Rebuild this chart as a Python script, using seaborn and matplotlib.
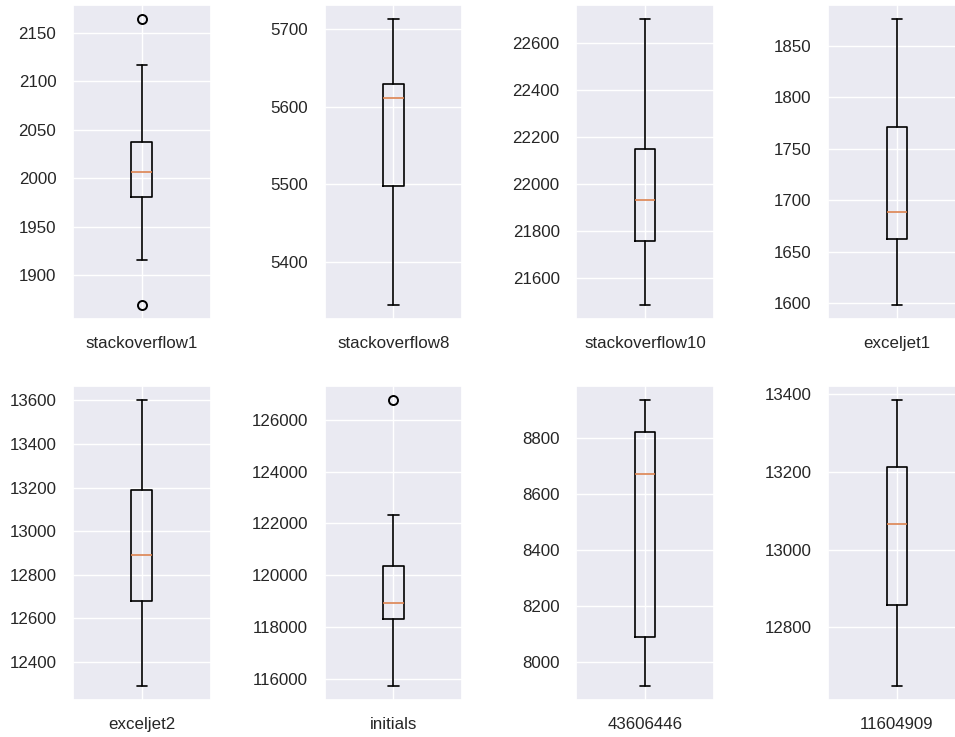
import matplotlib
matplotlib.use("Agg")
import matplotlib.pyplot as plt
from matplotlib.ticker import MaxNLocator
import seaborn as sns

# Summary statistics for each benchmark series
names = ["stackoverflow1", "stackoverflow8", "stackoverflow10", "exceljet1",
         "exceljet2", "initials", "43606446", "11604909"]
whisker_low = [1916, 5344, 21484, 1598, 12290, 115744, 7917, 12649]
q1 = [1981, 5498, 21758, 1662, 12681, 118320, 8092, 12858]
median = [2006, 5611, 21932, 1689, 12890, 118951, 8673, 13067]
q3 = [2037, 5629, 22149, 1771, 13188, 120358, 8821, 13213]
whisker_high = [2117, 5713, 22700, 1876, 13603, 122320, 8936, 13386]
outliers = [[1869, 2164], [], [], [], [], [126767], [], []]

sns.set_theme(style="darkgrid")
plt.rcParams["font.family"] = ["Liberation Sans", "DejaVu Sans"]
plt.rcParams.update({
    "xtick.labelsize": 12.2,
    "ytick.labelsize": 12.2,
    "xtick.major.pad": 6,
    "ytick.major.pad": 6,
})

fig = plt.figure(figsize=(9.55, 7.37), dpi=100)
axes = fig.subplots(2, 4)
fig.subplots_adjust(left=0.0764, right=1.0111, bottom=0.0502, top=0.9932,
                    wspace=0.83, hspace=0.21)

line = dict(color="black", linewidth=1.2)
for ax, name, lo, a, m, b, hi, fl in zip(axes.flat, names, whisker_low, q1,
                                         median, q3, whisker_high, outliers):
    stats = [dict(label=name, whislo=lo, q1=a, med=m, q3=b, whishi=hi,
                  fliers=fl)]
    ax.bxp(stats, boxprops=line, whiskerprops=line, capprops=line,
           medianprops=dict(color=sns.color_palette()[1], linewidth=1.2),
           flierprops=dict(marker="o", markerfacecolor="none",
                           markeredgecolor="black", markersize=6.5,
                           markeredgewidth=1.4))
    ax.yaxis.set_major_locator(MaxNLocator(nbins=8, steps=[1, 2, 2.5, 5, 10]))

fig.savefig("out.png", dpi=100)
